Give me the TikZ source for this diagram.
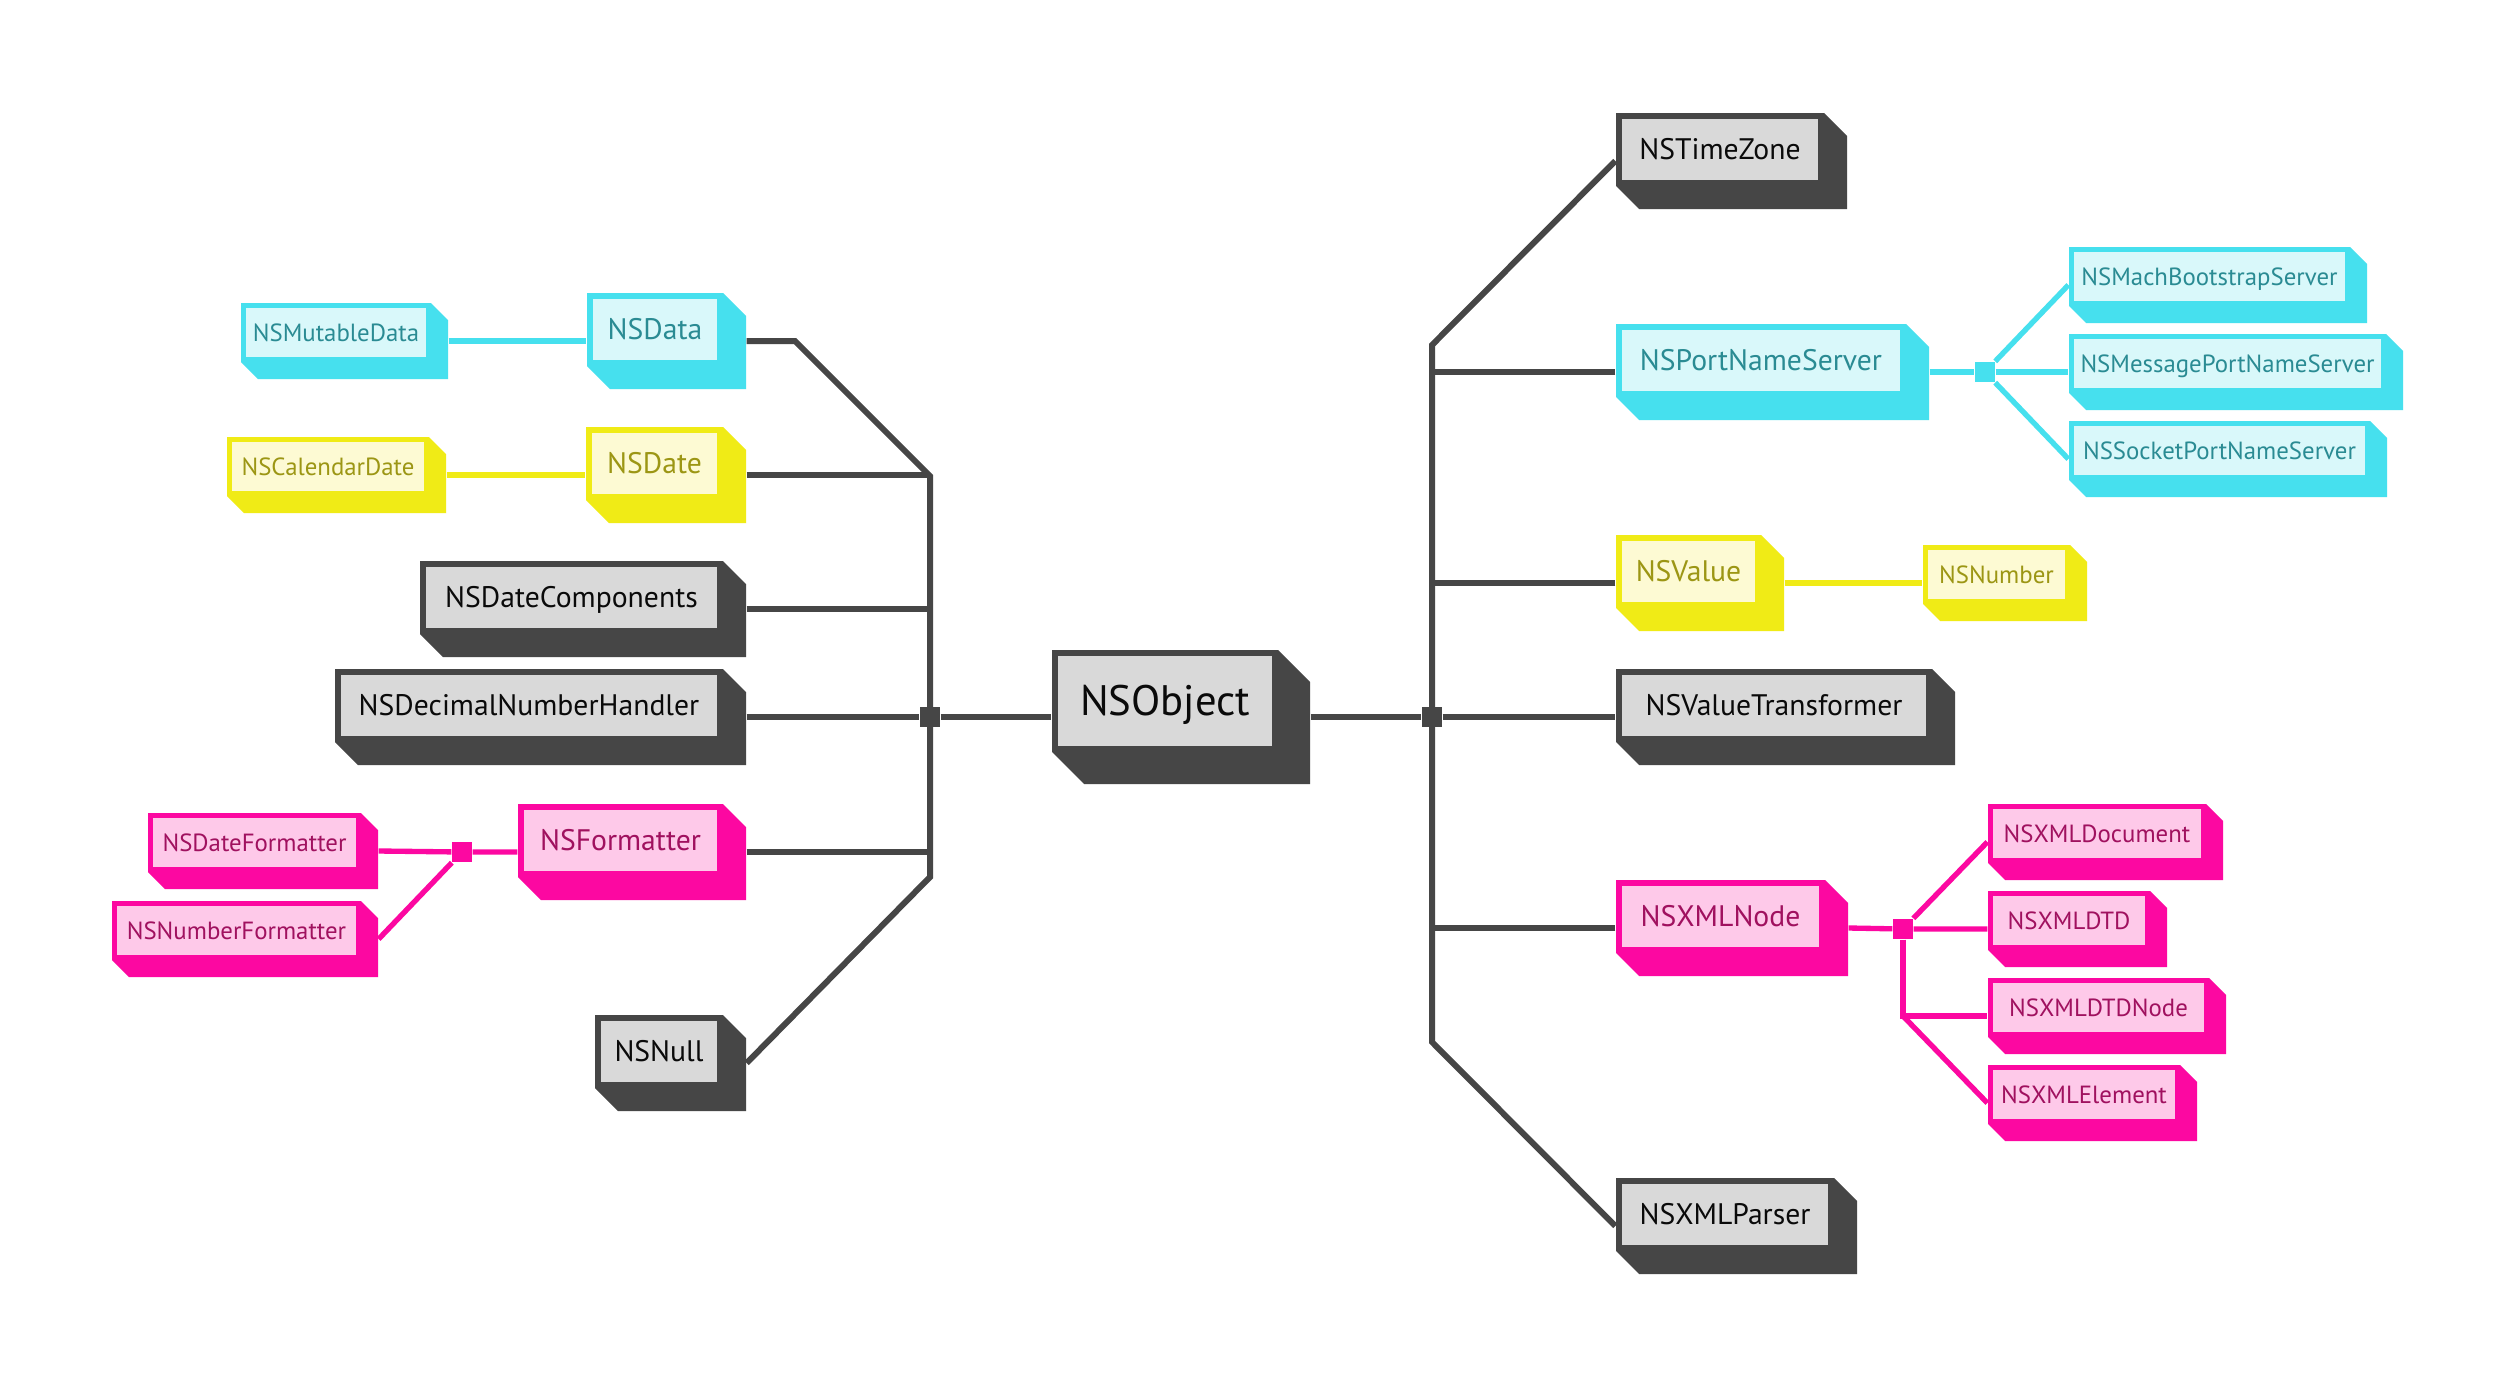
\documentclass[tikz,border=0pt]{standalone}
\usepackage{fontspec}
\setmainfont{PT Sans}
\definecolor{grd}{HTML}{464646}
\definecolor{grl}{HTML}{D9D9D9}
\definecolor{grt}{HTML}{0A0A0A}
\definecolor{cyd}{HTML}{46E0EE}
\definecolor{cyl}{HTML}{D9F8FA}
\definecolor{cyt}{HTML}{2A8B93}
\definecolor{yed}{HTML}{F0EB16}
\definecolor{yel}{HTML}{FDFAD3}
\definecolor{yet}{HTML}{9C9614}
\definecolor{pkd}{HTML}{FC08A1}
\definecolor{pkl}{HTML}{FEC9E9}
\definecolor{pkt}{HTML}{A0115F}
\tikzset{
  gline/.style={draw=grd, line width=1.8pt},
  cline/.style={draw=#1, line width=1.6pt},
  jn/.style={inner sep=0pt, minimum size=6pt, fill=#1},
}
\newcommand\setsm{\def\ct{5}\def\ch{49}\def\cd{17}\def\cfs{7.45}\def\ccap{5.1}}
\newcommand\setmd{\def\ct{6}\def\ch{61}\def\cd{23}\def\cfs{8.9}\def\ccap{6.1}}
\newcommand\setlg{\def\ct{6}\def\ch{90}\def\cd{32}\def\cfs{12.8}\def\ccap{8.8}}
% #1 name, #2 colour set, #3 left, #4 top, #5 inner width, #6 text
\newcommand\cls[6]{%
  \pgfmathsetmacro\cR{#3+#5+2*\ct}%
  \pgfmathsetmacro\cB{#4+\ch+2*\ct}%
  \fill[#2d] (#3,#4) -- (\cR,#4) -- ({\cR+\cd},{#4+\cd}) -- ({\cR+\cd},{\cB+\cd}) -- ({#3+\cd},{\cB+\cd}) -- (#3,\cB) -- cycle;
  \fill[#2l] ({#3+\ct},{#4+\ct}) rectangle ({\cR-\ct},{\cB-\ct});
  \node[text=#2t, font=\fontsize{\cfs pt}{\cfs pt}\selectfont, text height=\ccap pt, text depth=0pt, inner sep=0pt] at ({(#3+\cR)/2},{(#4+\cB)/2}) {#6};
  \pgfmathsetmacro\cW{(\cR+\cd-#3)*0.3}%
  \pgfmathsetmacro\cH{(\cB+\cd-#4)*0.3}%
  \node[inner sep=0pt, minimum width=\cW pt, minimum height=\cH pt] (#1) at ({(#3+\cR+\cd)/2},{(#4+\cB+\cd)/2}) {};
}
\begin{document}
\begin{tikzpicture}[x=0.3pt, y=-0.3pt]
\useasboundingbox[fill=white] (0,0) rectangle (2514,1388);
% left side
\setmd
\cls{data}{cy}{587}{293}{124}{NSData}
\cls{date}{ye}{586}{427}{125}{NSDate}
\cls{datecomp}{gr}{420}{561}{291}{NSDateComponents}
\cls{decimal}{gr}{335}{669}{376}{NSDecimalNumberHandler}
\cls{formatter}{pk}{518}{804}{193}{NSFormatter}
\cls{null}{gr}{595}{1015}{116}{NSNull}
\setsm
\cls{mutdata}{cy}{241}{303}{180}{NSMutableData}
\cls{caldate}{ye}{227}{437}{192}{NSCalendarDate}
\cls{datefmt}{pk}{148}{813}{203}{NSDateFormatter}
\cls{numfmt}{pk}{112}{901}{239}{NSNumberFormatter}
% centre
\setlg
\cls{object}{gr}{1052}{650}{214}{NSObject}
% right side
\setmd
\cls{timezone}{gr}{1616}{113}{196}{NSTimeZone}
\cls{portname}{cy}{1616}{324}{278}{NSPortNameServer}
\cls{value}{ye}{1616}{535}{133}{NSValue}
\cls{valtrans}{gr}{1616}{669}{304}{NSValueTransformer}
\cls{xmlnode}{pk}{1616}{880}{197}{NSXMLNode}
\cls{xmlparser}{gr}{1616}{1178}{206}{NSXMLParser}
\setsm
\cls{mach}{cy}{2069}{247}{271}{NSMachBootstrapServer}
\cls{message}{cy}{2069}{334}{307}{NSMessagePortNameServer}
\cls{socket}{cy}{2069}{421}{291}{NSSocketPortNameServer}
\cls{number}{ye}{1923}{545}{137}{NSNumber}
\cls{xmldoc}{pk}{1988}{804}{208}{NSXMLDocument}
\cls{xmldtd}{pk}{1988}{891}{152}{NSXMLDTD}
\cls{xmldtdnode}{pk}{1988}{978}{211}{NSXMLDTDNode}
\cls{xmlelem}{pk}{1988}{1065}{182}{NSXMLElement}
% junctions
\node[jn=grd] (jl) at (930,717) {};
\node[jn=grd] (jr) at (1432,717) {};
\node[jn=cyd] (jc) at (1985,372) {};
\node[jn=pkd] (jf) at (462,852) {};
\node[jn=pkd] (jx) at (1903,929) {};
\coordinate (lk) at (795,341);
\coordinate (lt) at (930,476);
\coordinate (lb) at (930,877);
\coordinate (rt) at (1432,345);
\coordinate (rb) at (1432,1042);
\coordinate (xs) at (1903,1016);
% grey connectors
\draw[gline] (data.east) -- (lk) -- (lt) -- (lb) -- (null.east);
\draw[gline] (date.east) -- (date.east -| jl);
\draw[gline] (datecomp.east) -- (datecomp.east -| jl);
\draw[gline] (formatter.east) -- (formatter.east -| jl);
\draw[gline] (decimal.east) -- (jl) -- (object.west);
\draw[gline] (object.east) -- (jr) -- (valtrans.west);
\draw[gline] (timezone.west) -- (rt) -- (rb) -- (xmlparser.west);
\draw[gline] (portname.west) -- (portname.west -| jr);
\draw[gline] (value.west) -- (value.west -| jr);
\draw[gline] (xmlnode.west) -- (xmlnode.west -| jr);
% coloured connectors
\draw[cline=cyd] (mutdata.east) -- (data.west);
\draw[cline=cyd] (portname.east) -- (jc) -- (message.west);
\draw[cline=cyd] (jc) -- (mach.west);
\draw[cline=cyd] (jc) -- (socket.west);
\draw[cline=yed] (caldate.east) -- (date.west);
\draw[cline=yed] (value.east) -- (number.west);
\draw[cline=pkd] (datefmt.east) -- (jf) -- (formatter.west);
\draw[cline=pkd] (jf) -- (numfmt.east);
\draw[cline=pkd] (xmlnode.east) -- (jx) -- (xmldtd.west);
\draw[cline=pkd] (jx) -- (xmldoc.west);
\draw[cline=pkd] (jx) -- (xs) -- (xmldtdnode.west);
\draw[cline=pkd] (xs) -- (xmlelem.west);
\end{tikzpicture}
\end{document}
